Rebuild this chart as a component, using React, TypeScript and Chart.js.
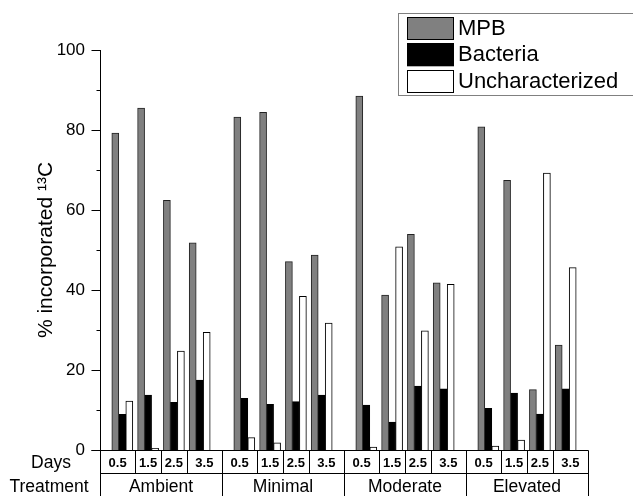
import React, { useEffect, useRef } from 'react';
import { Chart, registerables } from 'chart.js';

Chart.register(...registerables);

const treatments = ['Ambient', 'Minimal', 'Moderate', 'Elevated'];
const days = ['0.5', '1.5', '2.5', '3.5'];
const seriesLabels = ['MPB', 'Bacteria', 'Uncharacterized'];

// values in order: Ambient(0.5,1.5,2.5,3.5), Minimal(...), Moderate(...), Elevated(...)
const mpb = [79.2, 85.5, 62.4, 51.8, 83.2, 84.4, 47.1, 48.75, 88.5, 38.75, 53.9, 41.8, 80.8, 67.4, 15.1, 26.25];
const bacteria = [8.9, 13.75, 11.9, 17.5, 12.9, 11.4, 12.1, 13.75, 11.2, 7.0, 16.0, 15.3, 10.4, 14.25, 9.0, 15.3];
const uncharacterized = [12.25, 0.4, 24.7, 29.4, 3.1, 1.8, 38.4, 31.7, 0.7, 50.8, 29.8, 41.4, 1.0, 2.5, 69.2, 45.6];

const yMin = 0;
const yMax = 100;
const yStep = 20;
const yMinorStep = 10;

const FONT = '"Liberation Sans", Arial, Helvetica, sans-serif';
const DAY_STEP = 0.2115; // spacing of day groups inside one treatment (treatment width = 1)

const xOf = (t: number, d: number) => t + 0.5 + (d - (days.length - 1) / 2) * DAY_STEP;
const toPoints = (vals: number[]) =>
  vals.map((v, i) => ({ x: xOf(Math.floor(i / days.length), i % days.length), y: v }));

const colors = [
  { bg: '#808080', border: '#222222' },
  { bg: '#000000', border: '#000000' },
  { bg: '#ffffff', border: '#000000' },
];

const tablePlugin = {
  id: 'tableAndLegend',
  afterDraw(chart: any) {
    const { ctx, chartArea: a, scales } = chart;
    const x = scales.x;
    const y = scales.y;
    const H = chart.height;
    const r = (v: number) => Math.round(v) + 0.5;
    const line = (x1: number, y1: number, x2: number, y2: number) => {
      ctx.beginPath();
      ctx.moveTo(x1, y1);
      ctx.lineTo(x2, y2);
      ctx.stroke();
    };
    ctx.save();
    ctx.strokeStyle = '#000';
    ctx.lineWidth = 1;
    const L = r(a.left);
    const R = r(a.right);
    const B = r(a.bottom);
    // y axis
    line(L, a.top, L, H);
    for (let v = yMin; v <= yMax; v += yMinorStep) {
      const py = r(y.getPixelForValue(v));
      const len = v % yStep === 0 ? 9 : 4;
      line(L - len, py, L, py);
    }
    // x axis / table top
    line(L - 9, B, R, B);
    const row1 = r(a.bottom + 23);
    line(L, row1, R, row1);
    line(R, B, R, H);
    for (let t = 1; t < treatments.length; t++) {
      const px = r(x.getPixelForValue(t));
      line(px, B, px, H);
    }
    for (let t = 0; t < treatments.length; t++) {
      for (let d = 1; d < days.length; d++) {
        const px = r(x.getPixelForValue(xOf(t, d) - DAY_STEP / 2));
        line(px, B, px, row1);
      }
    }
    // table text
    ctx.fillStyle = '#000';
    ctx.textBaseline = 'middle';
    ctx.textAlign = 'center';
    const dayY = (a.bottom + row1) / 2 + 1.5;
    const trY = row1 + 14;
    ctx.font = `bold 13px ${FONT}`;
    for (let t = 0; t < treatments.length; t++) {
      for (let d = 0; d < days.length; d++) {
        const left = d === 0 ? x.getPixelForValue(t) : x.getPixelForValue(xOf(t, d) - DAY_STEP / 2);
        const right = d === days.length - 1 ? x.getPixelForValue(t + 1) : x.getPixelForValue(xOf(t, d) + DAY_STEP / 2);
        ctx.fillText(days[d], (left + right) / 2, dayY);
      }
    }
    ctx.font = `17.5px ${FONT}`;
    treatments.forEach((name, t) => {
      ctx.fillText(name, x.getPixelForValue(t + 0.5), trY);
    });
    ctx.fillText('Days', 51, dayY);
    ctx.fillText('Treatment', 49, trY);

    // legend
    ctx.strokeStyle = '#808080';
    ctx.strokeRect(398.5, 13.5, 260, 82);
    ctx.font = `22px ${FONT}`;
    ctx.textAlign = 'left';
    seriesLabels.forEach((lab, i) => {
      const top = 17 + i * 26.3;
      ctx.fillStyle = colors[i].bg;
      ctx.fillRect(407, top, 47, 23);
      ctx.strokeStyle = '#000';
      ctx.strokeRect(407.5, Math.round(top) + 0.5, 46, 22);
      ctx.fillStyle = '#000';
      ctx.fillText(lab, 458, top + 12);
    });
    ctx.restore();
  },
};

export default function App() {
  const ref = useRef<HTMLCanvasElement | null>(null);
  useEffect(() => {
    document.body.style.margin = '0';
    const canvas = ref.current;
    if (!canvas) return;
    const series = [mpb, bacteria, uncharacterized];
    const chart = new Chart(canvas, {
      type: 'bar',
      data: {
        datasets: series.map((vals, i) => ({
          label: seriesLabels[i],
          data: toPoints(vals),
          backgroundColor: colors[i].bg,
          borderColor: colors[i].border,
          borderWidth: 1,
          barThickness: 7,
        })),
      },
      options: {
        animation: false,
        responsive: false,
        devicePixelRatio: 1,
        layout: { padding: { top: 50, bottom: 46, right: 45, left: 0 } },
        plugins: {
          legend: { display: false },
          tooltip: { enabled: false },
        },
        scales: {
          x: {
            type: 'linear',
            min: 0,
            max: treatments.length,
            offset: false,
            display: false,
          },
          y: {
            min: yMin,
            max: yMax,
            afterFit: (s: any) => {
              s.width = 100;
            },
            grid: { display: false, drawTicks: false },
            border: { display: false },
            ticks: {
              stepSize: yStep,
              padding: 15,
              color: '#000',
              font: { family: FONT, size: 17 },
            },
            title: {
              display: true,
              text: '% incorporated ¹³C',
              color: '#000',
              font: { family: FONT, size: 21 },
              padding: { top: 34, bottom: 0 },
            },
          },
        },
      } as any,
      plugins: [tablePlugin],
    });
    return () => chart.destroy();
  }, []);
  return (
    <div style={{ position: 'absolute', left: 0, top: 0, width: 633, height: 496 }}>
      <canvas ref={ref} width={633} height={496} />
    </div>
  );
}
